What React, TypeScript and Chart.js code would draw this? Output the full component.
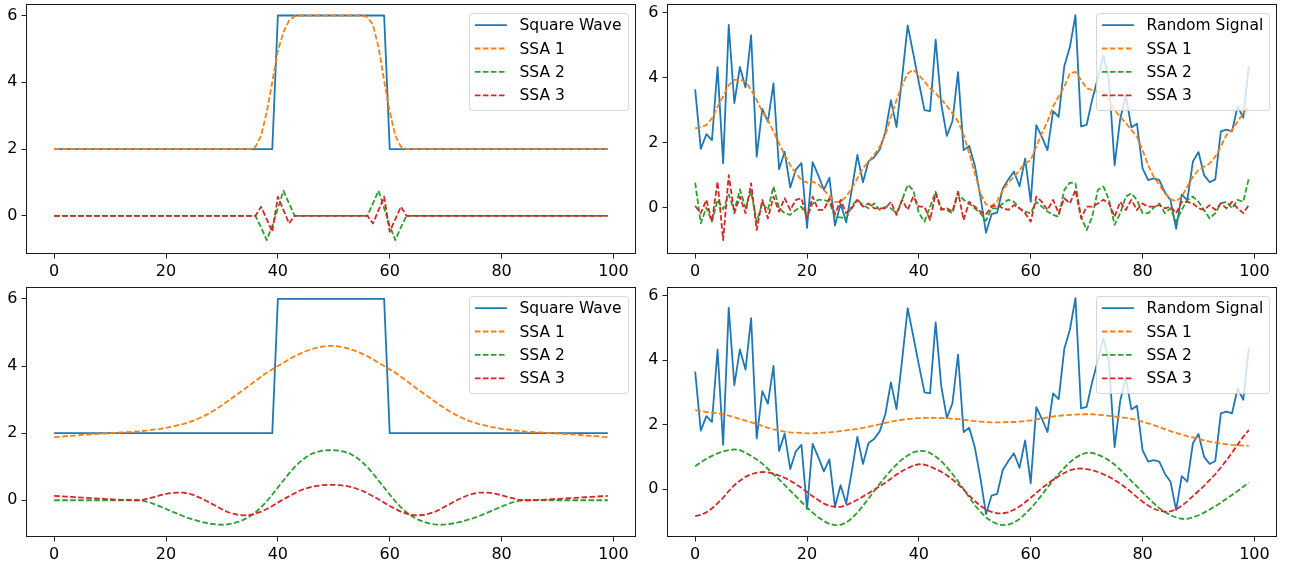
import React, { useEffect, useRef } from "react";
import { Chart, registerables } from "chart.js";

Chart.register(...registerables);

// ---------- data ----------
const X_IDX: number[] = Array.from({ length: 100 }, (_, i) => i);
const X_TICKS = [0, 20, 40, 60, 80, 100];
const Y_TICKS = [0, 2, 4, 6];

const SQUARE_WAVE = [
  2, 2, 2, 2, 2, 2, 2, 2, 2, 2,
  2, 2, 2, 2, 2, 2, 2, 2, 2, 2,
  2, 2, 2, 2, 2, 2, 2, 2, 2, 2,
  2, 2, 2, 2, 2, 2, 2, 2, 2, 2,
  6, 6, 6, 6, 6, 6, 6, 6, 6, 6,
  6, 6, 6, 6, 6, 6, 6, 6, 6, 6,
  2, 2, 2, 2, 2, 2, 2, 2, 2, 2,
  2, 2, 2, 2, 2, 2, 2, 2, 2, 2,
  2, 2, 2, 2, 2, 2, 2, 2, 2, 2,
  2, 2, 2, 2, 2, 2, 2, 2, 2, 2,
];

const SQ_SSA1_A = [
  2, 2, 2, 2, 2, 2, 2, 2, 2, 2,
  2, 2, 2, 2, 2, 2, 2, 2, 2, 2,
  2, 2, 2, 2, 2, 2, 2, 2, 2, 2,
  2, 2, 2, 2, 2, 2, 2.07, 2.4, 3.1, 4.0,
  4.95, 5.5, 5.85, 5.98, 6, 6, 6, 6, 6, 6,
  6, 6, 6, 6, 6, 6, 5.95, 5.72, 5.05, 4.05,
  3.12, 2.4, 2.07, 2, 2, 2, 2, 2, 2, 2,
  2, 2, 2, 2, 2, 2, 2, 2, 2, 2,
  2, 2, 2, 2, 2, 2, 2, 2, 2, 2,
  2, 2, 2, 2, 2, 2, 2, 2, 2, 2,
];
const SQ_SSA2_A = [
  0, 0, 0, 0, 0, 0, 0, 0, 0, 0,
  0, 0, 0, 0, 0, 0, 0, 0, 0, 0,
  0, 0, 0, 0, 0, 0, 0, 0, 0, 0,
  0, 0, 0, 0, 0, 0, 0, -0.35, -0.73, -0.3,
  0.23, 0.75, 0.37, 0, 0, 0, 0, 0, 0, 0,
  0, 0, 0, 0, 0, 0, 0, 0.37, 0.75, 0.23,
  -0.3, -0.73, -0.35, 0, 0, 0, 0, 0, 0, 0,
  0, 0, 0, 0, 0, 0, 0, 0, 0, 0,
  0, 0, 0, 0, 0, 0, 0, 0, 0, 0,
  0, 0, 0, 0, 0, 0, 0, 0, 0, 0,
];
const SQ_SSA3_A = [
  0, 0, 0, 0, 0, 0, 0, 0, 0, 0,
  0, 0, 0, 0, 0, 0, 0, 0, 0, 0,
  0, 0, 0, 0, 0, 0, 0, 0, 0, 0,
  0, 0, 0, 0, 0, 0, 0, 0.27, -0.1, -0.48,
  0.57, 0.17, -0.23, 0, 0, 0, 0, 0, 0, 0,
  0, 0, 0, 0, 0, 0, 0, -0.23, 0.17, 0.57,
  -0.48, -0.1, 0.27, 0, 0, 0, 0, 0, 0, 0,
  0, 0, 0, 0, 0, 0, 0, 0, 0, 0,
  0, 0, 0, 0, 0, 0, 0, 0, 0, 0,
  0, 0, 0, 0, 0, 0, 0, 0, 0, 0,
];

const SQ_SSA1_B = [
  1.88, 1.89, 1.91, 1.92, 1.93, 1.95, 1.96, 1.97, 1.98, 1.99,
  2.0, 2.01, 2.02, 2.03, 2.04, 2.05, 2.07, 2.09, 2.11, 2.13,
  2.16, 2.19, 2.23, 2.27, 2.32, 2.38, 2.45, 2.53, 2.62, 2.72,
  2.83, 2.95, 3.07, 3.19, 3.31, 3.43, 3.56, 3.68, 3.8, 3.9,
  4.0, 4.1, 4.2, 4.29, 4.37, 4.44, 4.5, 4.55, 4.58, 4.6,
  4.6, 4.58, 4.55, 4.5, 4.44, 4.37, 4.29, 4.2, 4.1, 4.0,
  3.9, 3.8, 3.68, 3.56, 3.43, 3.31, 3.19, 3.07, 2.95, 2.83,
  2.72, 2.62, 2.53, 2.45, 2.38, 2.32, 2.27, 2.23, 2.19, 2.16,
  2.13, 2.11, 2.09, 2.07, 2.05, 2.04, 2.03, 2.02, 2.01, 2.0,
  1.99, 1.98, 1.97, 1.96, 1.95, 1.93, 1.92, 1.91, 1.89, 1.88,
];
const SQ_SSA2_B = [
  0, 0, 0, 0, 0, 0, 0, 0, 0, 0,
  0, 0, 0, 0, 0, 0, -0.02, -0.06, -0.12, -0.19,
  -0.26, -0.33, -0.4, -0.47, -0.53, -0.58, -0.63, -0.67, -0.7, -0.72,
  -0.73, -0.72, -0.69, -0.64, -0.57, -0.48, -0.36, -0.21, -0.03, 0.17,
  0.38, 0.59, 0.8, 0.99, 1.15, 1.28, 1.38, 1.44, 1.48, 1.49,
  1.49, 1.48, 1.44, 1.38, 1.28, 1.15, 0.99, 0.8, 0.59, 0.38,
  0.17, -0.03, -0.21, -0.36, -0.48, -0.57, -0.64, -0.69, -0.72, -0.73,
  -0.72, -0.7, -0.67, -0.63, -0.58, -0.53, -0.47, -0.4, -0.33, -0.26,
  -0.19, -0.12, -0.06, -0.02, 0, 0, 0, 0, 0, 0,
  0, 0, 0, 0, 0, 0, 0, 0, 0, 0,
];
const SQ_SSA3_B = [
  0.13, 0.12, 0.11, 0.1, 0.09, 0.08, 0.07, 0.06, 0.05, 0.04,
  0.03, 0.02, 0.01, 0.01, 0.0, 0.0, 0.02, 0.06, 0.1, 0.15,
  0.19, 0.22, 0.23, 0.23, 0.2, 0.15, 0.08, 0.0, -0.09, -0.18,
  -0.27, -0.35, -0.4, -0.44, -0.45, -0.44, -0.4, -0.34, -0.26, -0.17,
  -0.07, 0.03, 0.12, 0.21, 0.29, 0.35, 0.4, 0.43, 0.45, 0.46,
  0.46, 0.45, 0.43, 0.4, 0.35, 0.29, 0.21, 0.12, 0.03, -0.07,
  -0.17, -0.26, -0.34, -0.4, -0.44, -0.45, -0.44, -0.4, -0.35, -0.27,
  -0.18, -0.09, 0.0, 0.08, 0.15, 0.2, 0.23, 0.23, 0.22, 0.19,
  0.15, 0.1, 0.06, 0.02, 0.0, 0.0, 0.01, 0.01, 0.02, 0.03,
  0.04, 0.05, 0.06, 0.07, 0.08, 0.09, 0.1, 0.11, 0.12, 0.13,
];

const RANDOM_SIGNAL = [
  3.64, 1.81, 2.26, 2.08, 4.32, 1.37, 5.62, 3.22, 4.33, 3.7,
  5.3, 1.57, 3.04, 2.65, 3.82, 1.18, 1.72, 0.62, 1.17, 1.37,
  -0.62, 1.4, 1.0, 0.55, 0.92, -0.55, 0.12, -0.45, 0.55, 1.62,
  0.78, 1.43, 1.55, 1.79, 2.32, 3.31, 2.48, 4.0, 5.61, 4.74,
  3.85, 3.0, 2.97, 5.17, 3.19, 2.21, 2.66, 4.17, 1.77, 1.9,
  1.3, 0.35, -0.77, -0.2, -0.15, 0.59, 0.87, 1.11, 0.66, 1.51,
  0.18, 2.54, 2.18, 1.77, 2.97, 2.79, 4.35, 4.94, 5.92, 2.5,
  2.55, 3.33, 3.98, 4.68, 3.91, 1.3, 2.73, 3.45, 2.47, 2.58,
  1.21, 0.85, 0.9, 0.85, 0.47, 0.23, -0.65, 0.4, 0.23, 1.42,
  1.71, 1.0, 0.78, 0.87, 2.35, 2.4, 2.35, 3.12, 2.77, 4.36,
];

const RND_SSA1_A = [
  2.44, 2.48, 2.54, 2.75, 3.1, 3.42, 3.77, 3.93, 3.93, 3.88,
  3.62, 3.31, 2.95, 2.7, 2.34, 1.98, 1.62, 1.31, 1.06, 0.85,
  0.77, 0.8, 0.72, 0.54, 0.37, 0.18, 0.18, 0.34, 0.6, 0.9,
  1.21, 1.42, 1.62, 1.88, 2.24, 2.8, 3.31, 3.77, 4.13, 4.24,
  4.08, 3.88, 3.67, 3.52, 3.33, 3.13, 2.9, 2.65, 2.24, 1.67,
  1.06, 0.44, 0.1, 0.05, 0.2, 0.54, 0.77, 0.95, 1.16, 1.36,
  1.47, 1.88, 2.29, 2.65, 3.11, 3.42, 3.72, 4.13, 4.18, 3.93,
  3.67, 3.62, 3.57, 3.57, 3.31, 3.0, 2.8, 2.6, 2.39, 2.18,
  1.77, 1.3, 0.95, 0.7, 0.44, 0.26, 0.2, 0.34, 0.65, 0.95,
  1.16, 1.26, 1.36, 1.57, 1.88, 2.24, 2.39, 2.65, 2.9, 3.13,
];
const RND_SSA2_A = [
  0.77, -0.48, 0.0, -0.43, 0.24, -0.05, 0.4, -0.1, 0.56, 0.0,
  0.5, -0.43, 0.13, -0.07, 0.65, -0.02, -0.17, -0.22, -0.07, 0.03,
  -0.28, 0.13, 0.24, 0.24, 0.18, -0.28, -0.3, -0.33, 0.05, 0.24,
  0.08, -0.02, 0.13, -0.07, 0.03, -0.02, -0.17, 0.24, 0.7, 0.54,
  -0.17, -0.43, 0.03, 0.49, -0.02, -0.07, -0.17, 0.44, 0.24, 0.13,
  -0.02, -0.17, -0.4, -0.02, -0.02, 0.13, 0.24, 0.18, -0.02, -0.12,
  -0.17, 0.18, 0.03, -0.12, -0.22, -0.28, 0.54, 0.77, 0.75, -0.28,
  -0.69, -0.28, 0.54, 0.65, 0.24, -0.53, -0.17, 0.34, 0.44, 0.24,
  -0.17, -0.17, 0.0, 0.13, -0.17, -0.02, -0.43, -0.07, 0.24, 0.34,
  0.18, -0.07, -0.33, -0.17, 0.13, 0.18, -0.02, 0.24, 0.18, 0.9,
];
const RND_SSA3_A = [
  0.05, -0.17, 0.24, -0.43, 0.8, -1.0, 1.0, -0.17, 0.34, -0.17,
  0.75, -0.69, 0.24, -0.33, 0.34, -0.12, 0.29, -0.07, 0.24, 0.29,
  -0.33, 0.34, -0.07, -0.07, 0.29, -0.2, 0.24, -0.17, -0.02, 0.24,
  0.03, 0.13, -0.02, -0.02, -0.02, 0.18, -0.22, 0.24, -0.07, 0.34,
  0.03, 0.03, -0.38, 0.44, -0.07, -0.02, -0.12, 0.49, -0.38, 0.18,
  0.03, -0.12, -0.2, 0.03, 0.08, -0.02, -0.07, 0.08, -0.02, -0.17,
  -0.43, 0.34, 0.18, -0.07, 0.24, -0.17, 0.29, 0.13, 0.54, -0.33,
  0.03, 0.03, 0.13, 0.24, 0.13, -0.28, 0.18, -0.07, 0.24, -0.07,
  0.13, 0.03, 0.03, 0.08, -0.02, 0.03, -0.17, 0.18, 0.18, 0.13,
  -0.02, -0.07, 0.08, -0.07, 0.13, -0.02, 0.18, -0.02, -0.17, 0.08,
];

const RND_SSA1_B = [
  2.45, 2.42, 2.39, 2.37, 2.35, 2.32, 2.28, 2.23, 2.17, 2.12,
  2.07, 2.02, 1.96, 1.9, 1.85, 1.81, 1.78, 1.76, 1.75, 1.74,
  1.73, 1.73, 1.74, 1.75, 1.76, 1.78, 1.8, 1.82, 1.84, 1.87,
  1.9, 1.93, 1.97, 2.01, 2.05, 2.09, 2.12, 2.15, 2.17, 2.19,
  2.2, 2.21, 2.21, 2.21, 2.2, 2.2, 2.18, 2.17, 2.15, 2.13,
  2.11, 2.09, 2.08, 2.07, 2.07, 2.07, 2.08, 2.08, 2.09, 2.11,
  2.13, 2.16, 2.19, 2.22, 2.25, 2.27, 2.29, 2.3, 2.31, 2.32,
  2.32, 2.32, 2.3, 2.29, 2.27, 2.25, 2.23, 2.21, 2.18, 2.14,
  2.09, 2.04, 1.98, 1.92, 1.86, 1.8, 1.74, 1.69, 1.64, 1.6,
  1.55, 1.51, 1.47, 1.44, 1.41, 1.39, 1.37, 1.36, 1.35, 1.34,
];
const RND_SSA2_B = [
  0.71, 0.83, 0.94, 1.03, 1.11, 1.17, 1.21, 1.23, 1.21, 1.13,
  1.03, 0.92, 0.79, 0.63, 0.46, 0.3, 0.13, -0.05, -0.22, -0.4,
  -0.57, -0.73, -0.87, -0.99, -1.08, -1.12, -1.11, -1.04, -0.91, -0.73,
  -0.52, -0.29, -0.06, 0.16, 0.38, 0.58, 0.76, 0.92, 1.04, 1.14,
  1.19, 1.18, 1.12, 1.01, 0.87, 0.68, 0.47, 0.24, 0.0, -0.26,
  -0.5, -0.7, -0.88, -1.0, -1.08, -1.12, -1.1, -1.04, -0.93, -0.77,
  -0.6, -0.4, -0.18, 0.05, 0.27, 0.47, 0.66, 0.83, 0.97, 1.07,
  1.12, 1.12, 1.07, 0.99, 0.89, 0.76, 0.6, 0.43, 0.25, 0.08,
  -0.1, -0.27, -0.44, -0.59, -0.71, -0.81, -0.88, -0.92, -0.92, -0.88,
  -0.81, -0.73, -0.63, -0.53, -0.42, -0.3, -0.18, -0.06, 0.07, 0.2,
];
const RND_SSA3_B = [
  -0.84, -0.8, -0.72, -0.6, -0.44, -0.27, -0.06, 0.12, 0.26, 0.38,
  0.46, 0.51, 0.53, 0.52, 0.48, 0.42, 0.35, 0.26, 0.15, 0.04,
  -0.09, -0.22, -0.34, -0.45, -0.52, -0.55, -0.55, -0.5, -0.42, -0.33,
  -0.23, -0.13, -0.02, 0.09, 0.2, 0.32, 0.45, 0.56, 0.65, 0.73,
  0.77, 0.76, 0.7, 0.62, 0.54, 0.43, 0.3, 0.15, -0.02, -0.2,
  -0.37, -0.52, -0.63, -0.71, -0.75, -0.75, -0.72, -0.64, -0.54, -0.41,
  -0.27, -0.12, 0.03, 0.16, 0.29, 0.4, 0.5, 0.58, 0.63, 0.64,
  0.62, 0.59, 0.53, 0.46, 0.38, 0.28, 0.17, 0.04, -0.1, -0.25,
  -0.39, -0.51, -0.61, -0.67, -0.7, -0.69, -0.63, -0.52, -0.38, -0.22,
  -0.06, 0.1, 0.28, 0.46, 0.67, 0.89, 1.13, 1.38, 1.62, 1.83,
];

// ---------- styling ----------
const BLUE = "#1f77b4";
const ORANGE = "#ff7f0e";
const GREEN = "#2ca02c";
const RED = "#d62728";
const FONT = '"DejaVu Sans", "Liberation Sans", sans-serif';
const FONT_SIZE = 15.5;
const TICK_FONT_SIZE = 16;
const LINE_W = 1.8;
const DASH = [5.6, 2.4];

type Series = { label: string; values: number[]; color: string; dashed: boolean };
type PanelSpec = {
  key: string;
  left: number;
  top: number;
  width: number;
  height: number;
  pad: { left: number; top: number; right: number; bottom: number };
  yWidth: number;
  xHeight: number;
  yMin: number;
  yMax: number;
  series: Series[];
};

const frameLegendPlugin = {
  id: "frameLegend",
  afterDraw(chart: any) {
    const { ctx, chartArea: a } = chart;
    ctx.save();
    // full frame (spines)
    ctx.strokeStyle = "#1a1a1a";
    ctx.lineWidth = 1;
    ctx.setLineDash([]);
    ctx.strokeRect(a.left, a.top, a.right - a.left, a.bottom - a.top);

    // legend
    const ds = chart.data.datasets as any[];
    ctx.font = `${FONT_SIZE}px ${FONT}`;
    let maxW = 0;
    ds.forEach((d) => {
      maxW = Math.max(maxW, ctx.measureText(d.label).width);
    });
    const padL = 5.4;
    const handle = 32;
    const gap = 12.6;
    const padR = 6.6;
    const w = Math.round(padL + handle + gap + maxW + padR);
    const h = 97;
    const x1 = Math.round(a.right - 8 - w) + 0.5;
    const y1 = Math.round(a.top + 8) + 0.5;
    ctx.beginPath();
    if ((ctx as any).roundRect) {
      (ctx as any).roundRect(x1, y1, w, h, 3);
    } else {
      ctx.rect(x1, y1, w, h);
    }
    ctx.fillStyle = "rgba(255,255,255,0.8)";
    ctx.fill();
    ctx.strokeStyle = "rgba(204,204,204,0.8)";
    ctx.lineWidth = 1;
    ctx.stroke();

    ds.forEach((d, i) => {
      const cy = y1 + 11.6 + i * 23.4;
      ctx.beginPath();
      ctx.strokeStyle = d.borderColor;
      ctx.lineWidth = LINE_W;
      ctx.setLineDash(d.borderDash || []);
      ctx.moveTo(x1 + padL, cy);
      ctx.lineTo(x1 + padL + handle, cy);
      ctx.stroke();
      ctx.setLineDash([]);
      ctx.fillStyle = "#000";
      ctx.textAlign = "left";
      ctx.textBaseline = "middle";
      ctx.fillText(d.label, x1 + padL + handle + gap, cy + 1);
    });
    ctx.restore();
  },
};

function PanelChart({ spec }: { spec: PanelSpec }) {
  const ref = useRef<HTMLCanvasElement>(null);
  useEffect(() => {
    const canvas = ref.current;
    if (!canvas) return;
    const n = spec.series.length;
    const tickFont = { family: FONT, size: TICK_FONT_SIZE };
    const chart = new Chart(canvas, {
      type: "line",
      data: {
        datasets: spec.series.map((s, k) => ({
          label: s.label,
          data: s.values.map((y, i) => ({ x: X_IDX[i], y })),
          borderColor: s.color,
          backgroundColor: s.color,
          borderWidth: LINE_W,
          borderDash: s.dashed ? DASH : [],
          borderJoinStyle: "round",
          borderCapStyle: "butt",
          pointRadius: 0,
          pointHoverRadius: 0,
          fill: false,
          tension: 0,
          order: n - 1 - k,
        })),
      } as any,
      options: {
        animation: false,
        responsive: false,
        devicePixelRatio: 1,
        events: [],
        layout: { padding: spec.pad },
        plugins: {
          legend: { display: false },
          tooltip: { enabled: false },
        },
        scales: {
          x: {
            type: "linear",
            min: -4.95,
            max: 103.95,
            afterBuildTicks: (s: any) => {
              s.ticks = X_TICKS.map((v) => ({ value: v }));
            },
            afterFit: (s: any) => {
              s.height = spec.xHeight;
              s.paddingLeft = 0;
              s.paddingRight = 0;
              s.paddingTop = 0;
              s.paddingBottom = 0;
            },
            grid: {
              display: true,
              drawOnChartArea: false,
              drawTicks: true,
              tickLength: 5,
              color: "#222",
              lineWidth: 1,
            },
            border: { display: false },
            ticks: {
              font: tickFont,
              color: "#000",
              padding: 4,
              maxRotation: 0,
              minRotation: 0,
              autoSkip: false,
            },
          },
          y: {
            type: "linear",
            min: spec.yMin,
            max: spec.yMax,
            afterBuildTicks: (s: any) => {
              s.ticks = Y_TICKS.map((v) => ({ value: v }));
            },
            afterFit: (s: any) => {
              s.width = spec.yWidth;
              s.paddingLeft = 0;
              s.paddingRight = 0;
              s.paddingTop = 0;
              s.paddingBottom = 0;
            },
            grid: {
              display: true,
              drawOnChartArea: false,
              drawTicks: true,
              tickLength: 5,
              color: "#222",
              lineWidth: 1,
            },
            border: { display: false },
            ticks: {
              font: tickFont,
              color: "#000",
              padding: 4,
              autoSkip: false,
            },
          },
        },
      } as any,
      plugins: [frameLegendPlugin],
    });
    return () => chart.destroy();
  }, [spec]);
  return (
    <canvas
      ref={ref}
      width={spec.width}
      height={spec.height}
      style={{
        position: "absolute",
        left: spec.left,
        top: spec.top,
        width: spec.width,
        height: spec.height,
      }}
    />
  );
}

const sqSeries = (a: number[], b: number[], c: number[]): Series[] => [
  { label: "Square Wave", values: SQUARE_WAVE, color: BLUE, dashed: false },
  { label: "SSA 1", values: a, color: ORANGE, dashed: true },
  { label: "SSA 2", values: b, color: GREEN, dashed: true },
  { label: "SSA 3", values: c, color: RED, dashed: true },
];
const rndSeries = (a: number[], b: number[], c: number[]): Series[] => [
  { label: "Random Signal", values: RANDOM_SIGNAL, color: BLUE, dashed: false },
  { label: "SSA 1", values: a, color: ORANGE, dashed: true },
  { label: "SSA 2", values: b, color: GREEN, dashed: true },
  { label: "SSA 3", values: c, color: RED, dashed: true },
];

const PANELS: PanelSpec[] = [
  {
    key: "tl",
    left: 0,
    top: 0,
    width: 650,
    height: 280,
    pad: { left: 0, top: 4.5, right: 14.5, bottom: 0 },
    yWidth: 26.5,
    xHeight: 26.5,
    yMin: -1.13,
    yMax: 6.33,
    series: sqSeries(SQ_SSA1_A, SQ_SSA2_A, SQ_SSA3_A),
  },
  {
    key: "tr",
    left: 640,
    top: 0,
    width: 650,
    height: 280,
    pad: { left: 0, top: 4.5, right: 13.5, bottom: 0 },
    yWidth: 27.5,
    xHeight: 26.5,
    yMin: -1.41,
    yMax: 6.25,
    series: rndSeries(RND_SSA1_A, RND_SSA2_A, RND_SSA3_A),
  },
  {
    key: "bl",
    left: 0,
    top: 280,
    width: 650,
    height: 287,
    pad: { left: 0, top: 7.5, right: 14.5, bottom: 0 },
    yWidth: 26.5,
    xHeight: 30.5,
    yMin: -1.08,
    yMax: 6.34,
    series: sqSeries(SQ_SSA1_B, SQ_SSA2_B, SQ_SSA3_B),
  },
  {
    key: "br",
    left: 640,
    top: 280,
    width: 650,
    height: 287,
    pad: { left: 0, top: 7.5, right: 13.5, bottom: 0 },
    yWidth: 27.5,
    xHeight: 30.5,
    yMin: -1.47,
    yMax: 6.25,
    series: rndSeries(RND_SSA1_B, RND_SSA2_B, RND_SSA3_B),
  },
];

export default function App() {
  return (
    <div
      style={{
        position: "absolute",
        left: 0,
        top: 0,
        width: 1290,
        height: 567,
        background: "#fff",
        overflow: "hidden",
      }}
    >
      {PANELS.map((p) => (
        <PanelChart key={p.key} spec={p} />
      ))}
    </div>
  );
}
